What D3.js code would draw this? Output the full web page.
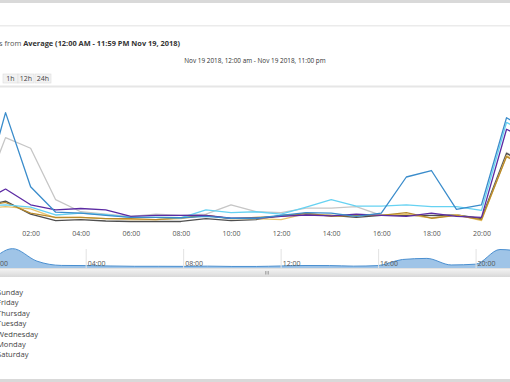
<!DOCTYPE html>
<html><head><meta charset="utf-8">
<script src="https://cdn.jsdelivr.net/npm/d3@7"></script>
<style>
html,body{margin:0;padding:0;background:#fff;overflow:hidden;}
svg{display:block;font-family:"Open Sans",sans-serif;}
</style></head><body>
<svg id="c" width="510" height="382"></svg>
<script>
// ---- data ----
const hours = [0,1,2,3,4,5,6,7,8,9,10,11,12,13,14,15,16,17,18,19,20,21,22];
const seriesNames = ["Sunday","Friday","Thursday","Tuesday","Wednesday","Monday","Saturday"];
const sunday    = [0.52,2.48,0.88,0.33,0.31,0.26,0.22,0.22,0.21,0.24,0.20,0.20,0.26,0.32,0.31,0.24,0.31,1.09,1.23,0.39,0.49,2.37,2.05];
const friday    = [0.52,1.94,1.71,0.60,0.34,0.29,0.24,0.29,0.26,0.29,0.49,0.34,0.32,0.42,0.42,0.45,0.26,0.26,0.22,0.27,0.20,1.62,1.30];
const thursday  = [0.54,0.83,0.49,0.38,0.41,0.38,0.24,0.26,0.26,0.26,0.20,0.20,0.24,0.27,0.25,0.29,0.26,0.24,0.31,0.24,0.22,2.12,1.85];
const tuesday   = [0.45,0.49,0.44,0.27,0.31,0.28,0.22,0.22,0.21,0.38,0.32,0.34,0.29,0.44,0.60,0.46,0.46,0.49,0.45,0.45,0.37,2.27,1.95];
const wednesday = [0.45,0.57,0.29,0.15,0.17,0.14,0.13,0.13,0.13,0.19,0.15,0.17,0.26,0.29,0.26,0.22,0.26,0.26,0.26,0.27,0.19,1.60,1.30];
const monday    = [0.45,0.54,0.31,0.22,0.22,0.19,0.19,0.17,0.21,0.26,0.19,0.22,0.24,0.31,0.24,0.26,0.26,0.32,0.20,0.26,0.17,1.53,1.25];
const saturday  = [0.40,0.45,0.40,0.21,0.22,0.19,0.17,0.17,0.19,0.26,0.19,0.19,0.17,0.30,0.26,0.26,0.26,0.29,0.20,0.28,0.15,1.55,1.25];
const yTicks = [0,1,2,3];
const xTickHours = [2,4,6,8,10,12,14,16,18,20];
const navTickHours = [0,4,8,12,16,20];
const titlePrefix = "s from ";
const titleBold = "Average (12:00 AM - 11:59 PM Nov 19, 2018)";
const subtitle = "Nov 19 2018, 12:00 am - Nov 19 2018, 11:00 pm";
const buttons = ["1h","12h","24h"];

const seriesValues = [sunday,friday,thursday,tuesday,wednesday,monday,saturday];
const colors = ["#3a8ccb","#c6c6c6","#5c2ba3","#66d2f2","#4f4f4f","#b88a2c","#e8c46c"];
const drawOrder = [1,4,6,5,3,2,0];

const svg = d3.select("#c");
const fmt = h => String(h).padStart(2,"0")+":00";

// frame bands
svg.append("rect").attr("x",0).attr("y",0).attr("width",510).attr("height",3).attr("fill","#d9d9d9");
svg.append("rect").attr("x",0).attr("y",25).attr("width",510).attr("height",1.5).attr("fill","#ebebeb");
svg.append("rect").attr("x",0).attr("y",379).attr("width",510).attr("height",3).attr("fill","#d9d9d9");

// title
const t = svg.append("text").attr("x",-1).attr("y",45.8).attr("font-size",7.4);
t.append("tspan").attr("fill","#555").text(titlePrefix);
t.append("tspan").attr("fill","#333").attr("font-weight","bold").text(titleBold);
svg.append("text").attr("x",255).attr("y",63.3).attr("text-anchor","middle")
  .attr("font-size",6.4).attr("fill","#333").text(subtitle);

// buttons
const bx = [3,18,35], bw=[15,16,16];
buttons.forEach((b,i)=>{
  svg.append("rect").attr("x",bx[i]).attr("y",74).attr("width",bw[i]).attr("height",9)
    .attr("fill","#f2f2f2").attr("stroke","#dcdcdc").attr("stroke-width",0.6);
  svg.append("text").attr("x",bx[i]+bw[i]/2).attr("y",81.3).attr("text-anchor","middle")
    .attr("font-size",7).attr("fill","#444").text(b);
});
svg.append("rect").attr("x",0).attr("y",85.5).attr("width",510).attr("height",2).attr("fill","#e6e6e6");

// main scales
const x = d3.scaleLinear().domain([0,20]).range([-19.5,481.5]);
const y = d3.scaleLinear().domain([0,3]).range([227.5,88.5]);

// gridlines
const gy = svg.append("g")
  .call(d3.axisLeft(y).tickValues(yTicks).tickSize(-530).tickFormat(""));
gy.attr("transform","translate(510,0)");
gy.select(".domain").remove();
gy.selectAll("line").attr("stroke","#e3e3e3").attr("stroke-width",1);

// x axis
const gx = svg.append("g").attr("transform","translate(0,227.5)")
  .call(d3.axisBottom(x).tickValues(xTickHours).tickSize(0).tickPadding(4).tickFormat(fmt));
gx.select(".domain").remove();
gx.selectAll("text").attr("font-size",7).attr("fill","#555").attr("font-family","'Open Sans',sans-serif");

// clip
svg.append("clipPath").attr("id","pc").append("rect").attr("x",0).attr("y",80).attr("width",510).attr("height",150);
const line = d3.line().x((d,i)=>x(hours[i])).y(d=>y(d));
const lg = svg.append("g").attr("clip-path","url(#pc)");
drawOrder.forEach(k=>{
  lg.append("path").datum(seriesValues[k]).attr("d",line)
    .attr("fill","none").attr("stroke",colors[k]).attr("stroke-width",1.3)
    .attr("stroke-linejoin","round");
});

// navigator
const nx = d3.scaleLinear().domain([0,20]).range([-11.8,475.6]);
const ny = d3.scaleLinear().domain([0,2.5]).range([268,248.5]);
svg.append("clipPath").attr("id","nc").append("rect").attr("x",0).attr("y",244).attr("width",510).attr("height",24);
const ng = svg.append("g").attr("clip-path","url(#nc)");
const area = d3.area().curve(d3.curveMonotoneX).x((d,i)=>nx(hours[i])).y0(268).y1(d=>ny(d));
const nline = d3.line().curve(d3.curveMonotoneX).x((d,i)=>nx(hours[i])).y(d=>ny(d));
ng.append("path").datum(sunday).attr("d",area).attr("fill","#9fc4e7");
ng.append("path").datum(sunday).attr("d",nline).attr("fill","none").attr("stroke","#4a8fd0").attr("stroke-width",1);
const ngx = svg.append("g").attr("transform","translate(0,268)")
  .call(d3.axisTop(nx).tickValues(navTickHours).tickSize(19).tickFormat(""));
ngx.select(".domain").remove();
ngx.selectAll("line").attr("stroke","#e2e2e2").attr("stroke-width",1);
svg.append("g").selectAll("text").data(navTickHours).join("text")
  .attr("x",d=>nx(d)+2).attr("y",266.3).attr("font-size",7).attr("fill","#555").text(fmt);

// scrollbar
const grad = svg.append("defs").append("linearGradient").attr("id","sg").attr("x1",0).attr("x2",0).attr("y1",0).attr("y2",1);
grad.append("stop").attr("offset","0%").attr("stop-color","#f4f4f4");
grad.append("stop").attr("offset","100%").attr("stop-color","#dadada");
svg.append("rect").attr("x",-2).attr("y",268.5).attr("width",514).attr("height",8).attr("fill","url(#sg)").attr("stroke","#cfcfcf").attr("stroke-width",0.6);
[265.5,267,268.5].forEach(gxp=>{
  svg.append("line").attr("x1",gxp).attr("x2",gxp).attr("y1",271).attr("y2",274.5).attr("stroke","#888").attr("stroke-width",0.6);
});

// legend
svg.append("g").selectAll("text").data(seriesNames).join("text")
  .attr("x",-3).attr("y",(d,i)=>295+i*10.4).attr("font-size",7.6).attr("fill","#444").text(d=>d);
</script>
</body></html>
